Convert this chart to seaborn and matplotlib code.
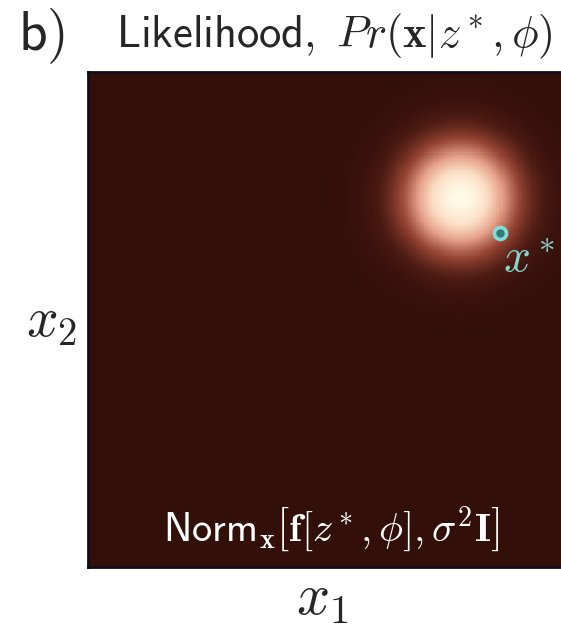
import numpy as np
import pandas as pd
import matplotlib
matplotlib.use("Agg")
import matplotlib.pyplot as plt
import seaborn as sns
from matplotlib.colors import LinearSegmentedColormap

# ---- data ----
mean_x1 = 0.752      # centre of likelihood blob (x1)
mean_x2 = 0.745      # centre of likelihood blob (x2)
sigma = 0.078        # spread of the normal
x_star = [0.832]     # observed point x*
y_star = [0.675]
n_grid = 240

grid = (np.arange(n_grid) + 0.5) / n_grid
X1, X2 = np.meshgrid(grid, grid[::-1])
dens = np.exp(-0.5 * ((X1 - mean_x1) ** 2 + (X2 - mean_x2) ** 2) / sigma ** 2)
df = pd.DataFrame(dens)

plt.rcParams['mathtext.fontset'] = 'cm'
sns.set_style("white")

cmap = LinearSegmentedColormap.from_list("lik", [
    (0.0, "#330f09"), (0.1, "#4a1a12"), (0.3, "#964434"),
    (0.55, "#e5a088"), (0.78, "#fbdcc4"), (1.0, "#fffae6")])

fig = plt.figure(figsize=(5.61, 6.27), dpi=100)
ax = fig.add_axes([88/561, 60/627, 495/561, 495/627])
sns.heatmap(df, ax=ax, cmap=cmap, vmin=0, vmax=1, cbar=False,
            xticklabels=False, yticklabels=False, rasterized=True)
for s in ax.spines.values():
    s.set_visible(True)
    s.set_color("#120c18")
    s.set_linewidth(2)

px = np.array(x_star) * n_grid
py = (1 - np.array(y_star)) * n_grid
ax.scatter(px, py, s=75, facecolor="#2e7d76", edgecolor="#86dcd4",
           linewidth=2.6, zorder=5)
ax.text(px[0] + 0.006 * n_grid, py[0] + 0.008 * n_grid, r"$x^*$",
        color="#86d6cc", fontsize=34, ha="left", va="top")

ax.text(0.49 * n_grid, (1 - 0.075) * n_grid,
        r"$\mathsf{Norm}_{\mathbf{x}}\left[\mathbf{f}[z^*,\phi],\sigma^2\mathbf{I}\right]$",
        color="white", fontsize=29, ha="center", va="center")

fig.text(18/561, 1 - 6/627, r"$\mathsf{b)}$", fontsize=40, ha="left", va="top")
fig.text(116/561, 1 - 36/627, r"$\mathsf{Likelihood,}\ Pr(\mathbf{x}|z^*,\phi)$",
         fontsize=32, ha="left", va="center")
fig.text(322/561, 1 - 598/627, r"$x_1$", fontsize=42, ha="center", va="center")
fig.text(52/561, 1 - 322/627, r"$x_2$", fontsize=40, ha="center", va="center")

fig.savefig("out.png", dpi=100)
